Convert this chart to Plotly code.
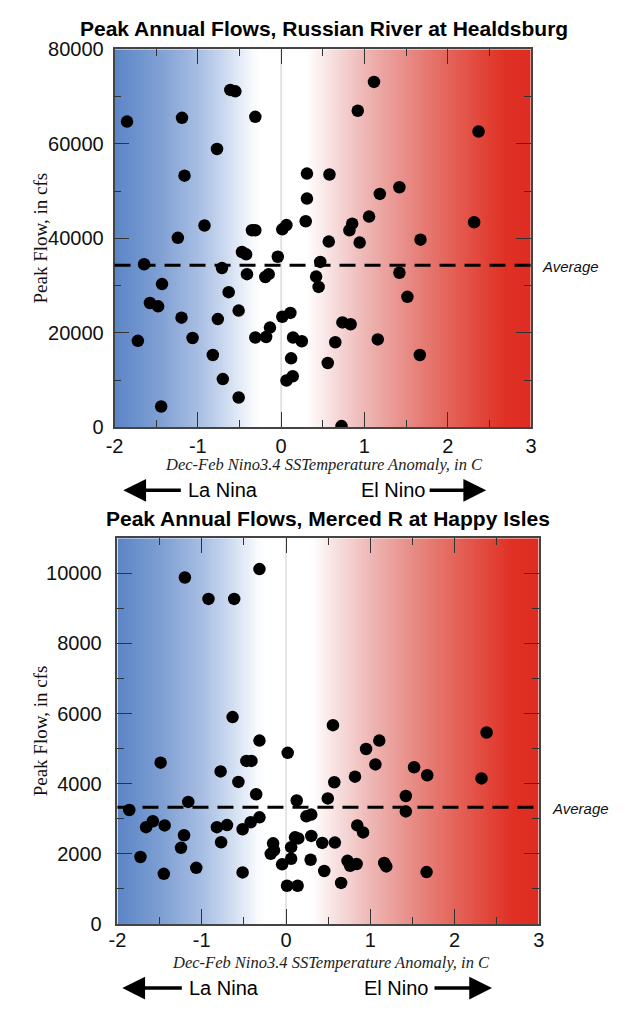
import numpy as np
import plotly.graph_objects as go

# ---------------- data ----------------
# Russian River at Healdsburg: Dec-Feb Nino3.4 anomaly (C) and peak flow (cfs)
rr_anomaly = [-1.85, -1.19, -0.31, -0.61, -0.55, -0.77, -1.16, 0.31, 0.31, 0.295,
              -0.92, -1.24, -0.35, -0.31, 0.014, 0.064, -0.47, -0.42, -0.04, 1.115,
              0.92, 2.37, 0.58, 1.42, 1.185, 1.056, 0.853, 0.82, 2.317, 0.572,
              0.943, 1.673, -1.645, -0.71, -0.41, -0.19, -0.15, -1.43, -0.63, -1.575,
              -1.477, -0.51, 0.014, 0.111, -1.196, -0.76, -0.134, -0.31, -0.18, 0.143,
              0.248, -1.72, -1.063, -0.82, 0.12, -0.70, 0.064, 0.139, -0.51, -1.44,
              0.42, 0.45, 0.47, 1.42, 1.516, 0.736, 0.834, 0.65, 1.16, 1.665,
              0.56, 0.725]
rr_flow = [64700, 65500, 65700, 71400, 71100, 58900, 53250, 53700, 48400, 43600,
           42700, 40100, 41700, 41700, 41900, 42800, 37100, 36600, 36100, 73100,
           67000, 62600, 53500, 50800, 49400, 44600, 43100, 41700, 43400, 39300,
           39100, 39700, 34500, 33700, 32400, 31800, 32400, 30300, 28600, 26300,
           25600, 24700, 23400, 24200, 23200, 22900, 21100, 19000, 19100, 19000,
           18200, 18300, 18900, 15300, 14600, 10200, 9900, 10800, 6300, 4400,
           31900, 29700, 35000, 32700, 27600, 22200, 21800, 18000, 18600, 15300,
           13600, 250]
rr_average = 34300

# Merced R at Happy Isles
mr_anomaly = [-1.2, -0.315, -0.92, -0.615, -0.634, -0.315, 0.02, -1.488, -0.47, -0.41,
              -0.776, -0.565, -0.354, -1.16, 0.127, -1.86, -0.315, -0.419, 0.242, 0.3,
              -1.58, -1.66, -1.44, -0.82, -0.70, -0.515, -0.77, -1.21, -1.246, 0.107,
              0.146, 0.3, -0.153, -0.181, -0.142, 0.061, 0.43, -1.727, 0.061, 0.292,
              -0.046, -0.515, -1.065, -1.45, 0.012, 0.138, 0.454, 0.557, 2.38, 1.107,
              0.95, 1.061, 0.819, 1.52, 1.676, 2.32, 0.573, 1.422, 0.496, 1.422,
              0.846, 0.915, 0.58, 0.654, 0.73, 0.761, 0.838, 1.165, 1.19, 1.668]
mr_flow = [9880, 10120, 9270, 9270, 5900, 5230, 4880, 4600, 4650, 4650,
           4350, 4050, 3700, 3480, 3520, 3250, 3040, 2900, 3070, 3120,
           2930, 2760, 2810, 2760, 2820, 2700, 2330, 2530, 2170, 2470,
           2440, 2510, 2300, 2000, 2100, 2190, 2310, 1910, 1860, 1830,
           1700, 1470, 1600, 1430, 1090, 1090, 1510, 5670, 5460, 5230,
           4990, 4550, 4200, 4470, 4240, 4150, 4040, 3650, 3580, 3210,
           2810, 2610, 2320, 1170, 1800, 1660, 1710, 1740, 1640, 1480]
mr_average = 3330

x_ticks = [-2, -1, 0, 1, 2, 3]
x_ticktext = ["-2", "-1", "0", "1", "2", "3"]
x_range = [-2, 3]
rr_range = [0, 80000]
mr_range = [0, 11000]

titles = ["Peak Annual Flows, Russian River at Healdsburg",
          "Peak Annual Flows, Merced R at Happy Isles"]
x_title = "Dec-Feb Nino3.4 SSTemperature Anomaly, in C"
y_title = "Peak Flow, in cfs"

# ---------------- style ----------------
PAGE_MARGIN = 8          # default body margin of the page
W, H = 625 - 2 * PAGE_MARGIN, 1011 - 2 * PAGE_MARGIN
def px(v):
    return (v - PAGE_MARGIN) / W
def py(v):
    return 1 - (v - PAGE_MARGIN) / H

colorscale = [
    [0.00, "rgb(92,134,199)"],
    [0.10, "rgb(125,158,210)"],
    [0.20, "rgb(168,190,227)"],
    [0.27, "rgb(208,221,241)"],
    [0.33, "rgb(248,250,253)"],
    [0.35, "rgb(255,255,255)"],
    [0.46, "rgb(255,255,255)"],
    [0.52, "rgb(247,223,223)"],
    [0.60, "rgb(238,183,181)"],
    [0.70, "rgb(232,140,134)"],
    [0.80, "rgb(228,100,90)"],
    [0.90, "rgb(225,62,50)"],
    [0.94, "rgb(224,48,36)"],
    [1.00, "rgb(222,44,34)"],
]

grad_x = np.linspace(x_range[0], x_range[1], 251)

fig = go.Figure()

def add_panel(xa, ya, yr, xs, ys, avg):
    fig.add_trace(go.Heatmap(
        x=grad_x, y=yr, z=[grad_x, grad_x], colorscale=colorscale,
        zmin=x_range[0], zmax=x_range[1], zsmooth="best", showscale=False,
        hoverinfo="skip", xaxis=xa, yaxis=ya))
    fig.add_trace(go.Scatter(
        x=[0, 0], y=yr, mode="lines", line=dict(color="rgba(200,200,200,0.8)", width=1.2),
        hoverinfo="skip", showlegend=False, xaxis=xa, yaxis=ya))
    fig.add_trace(go.Scatter(
        x=xs, y=ys, mode="markers",
        marker=dict(color="black", size=12.5, line=dict(width=0)),
        showlegend=False, xaxis=xa, yaxis=ya))
    fig.add_shape(type="line", xref=f"{xa} domain", yref=ya, x0=0, x1=1,
                  y0=avg, y1=avg, line=dict(color="black", width=3, dash="16px,9px"),
                  layer="above")

add_panel("x", "y", rr_range, rr_anomaly, rr_flow, rr_average)
add_panel("x2", "y2", mr_range, mr_anomaly, mr_flow, mr_average)

axis_common = dict(
    showgrid=False, zeroline=False, showline=True, linecolor="#444", linewidth=1.6,
    mirror="allticks", ticks="inside", ticklen=15, tickwidth=1.3, tickcolor="#333",
    tickfont=dict(family="Liberation Sans, Arial, sans-serif", size=20, color="#111"),
)
minor_x = dict(ticks="inside", ticklen=7, dtick=0.5, tickcolor="#333", tickwidth=1.2)

fig.update_layout(
    width=W, height=H,
    margin=dict(l=0, r=0, t=0, b=0),
    paper_bgcolor="white", plot_bgcolor="white",
    showlegend=False,
    xaxis=dict(axis_common, domain=[px(108), px(535)], range=x_range,
               tickvals=x_ticks, ticktext=x_ticktext, minor=minor_x,
               anchor="y", ticklabelstandoff=0),
    yaxis=dict(axis_common, domain=[py(425.5), py(39)], range=rr_range, dtick=20000,
               tickformat="d",
               minor=dict(ticks="inside", ticklen=7, dtick=10000, tickcolor="#333", tickwidth=1.2),
               anchor="x", ticklabelstandoff=5),
    xaxis2=dict(axis_common, domain=[px(111), px(543)], range=x_range,
                tickvals=x_ticks, ticktext=x_ticktext, minor=minor_x,
                anchor="y2", ticklabelstandoff=-3),
    yaxis2=dict(axis_common, domain=[py(933.4), py(539)], range=mr_range, dtick=2000,
                tickformat="d",
                minor=dict(ticks="inside", ticklen=7, dtick=1000, tickcolor="#333", tickwidth=1.2),
                anchor="x2", ticklabelstandoff=10),
)

ann = []
title_font = dict(family="Liberation Sans, Arial, sans-serif", size=21, color="black")
ann.append(dict(text=f"<b>{titles[0]}</b>", x=px(323), y=py(18), xref="paper", yref="paper",
                showarrow=False, font=title_font, xanchor="center", yanchor="middle"))
ann.append(dict(text=f"<b>{titles[1]}</b>", x=px(327), y=py(519), xref="paper", yref="paper",
                showarrow=False, font=title_font, xanchor="center", yanchor="middle"))

xt_font = dict(family="Liberation Serif, Times New Roman, serif", size=16.5, color="#222")
for cx, cy in [(323, 464), (330, 973)]:
    ann.append(dict(text=f"<i>{x_title}</i>", x=px(cx), y=py(cy), xref="paper", yref="paper",
                    showarrow=False, font=xt_font, xanchor="center", yanchor="middle"))

yt_font = dict(family="Liberation Serif, Times New Roman, serif", size=19, color="#111")
for cy in [232, 736]:
    ann.append(dict(text=y_title, x=px(32), y=py(cy), xref="paper", yref="paper",
                    showarrow=False, font=yt_font, textangle=-90,
                    xanchor="center", yanchor="middle"))

avg_font = dict(family="Liberation Sans, Arial, sans-serif", size=15, color="#111")
for cx, cy in [(544, 261), (554, 815)]:
    ann.append(dict(text="<i>Average</i>", x=px(cx), y=py(cy), xref="paper", yref="paper",
                    showarrow=False, font=avg_font, xanchor="left", yanchor="middle"))

nina_font = dict(family="Liberation Sans Narrow, Arial Narrow, Liberation Sans, sans-serif",
                 size=20, color="black")
for (la0, lt, en0, ar0, ar1, cy) in [
        (181, 117, 359, 431, 489, 490),
        (182, 116, 362, 436, 495, 999)]:
    ann.append(dict(text="La Nina", x=px(la0), y=py(cy), xref="paper", yref="paper",
                    showarrow=False, font=nina_font, xanchor="left", yanchor="middle"))
    ann.append(dict(text="El Nino", x=px(en0), y=py(cy), xref="paper", yref="paper",
                    showarrow=False, font=nina_font, xanchor="left", yanchor="middle"))
    ann.append(dict(text="", x=px(lt), y=py(cy), xref="paper", yref="paper",
                    showarrow=True, ax=(la0 - 5) - lt, ay=0, arrowhead=2, arrowsize=1.3,
                    arrowwidth=3.5, arrowcolor="black"))
    ann.append(dict(text="", x=px(ar1), y=py(cy), xref="paper", yref="paper",
                    showarrow=True, ax=ar0 - ar1, ay=0, arrowhead=2, arrowsize=1.3,
                    arrowwidth=3.5, arrowcolor="black"))

fig.update_layout(annotations=ann)

fig.write_html("out.html", config={"displayModeBar": False})
